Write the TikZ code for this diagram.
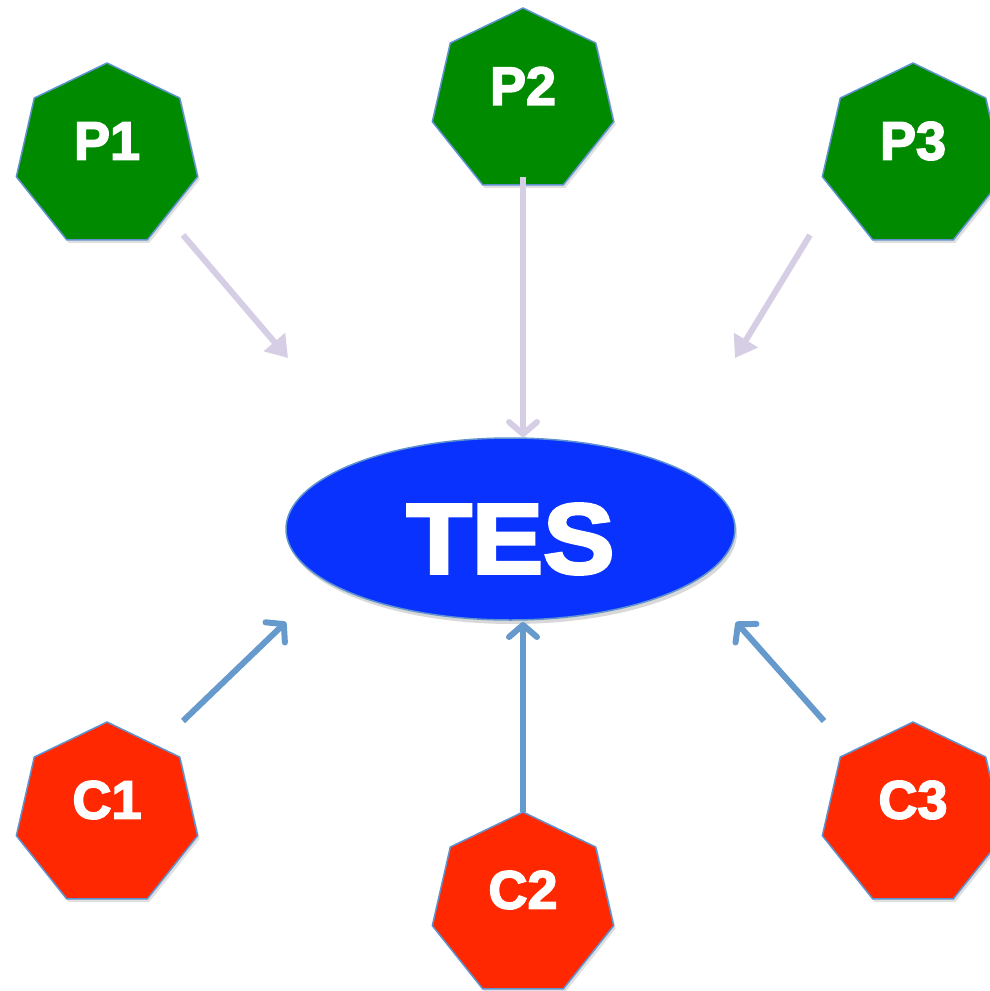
\documentclass[tikz,border=0pt]{standalone}
\usepackage{fontspec}
\setmainfont{Liberation Sans}
\newfontfamily\heavyfont{Liberation Sans}[UprightFont={* Bold}, UprightFeatures={FakeBold=3}]
\usetikzlibrary{shapes.geometric,arrows.meta,shadows}
\definecolor{pgreen}{HTML}{008A00}
\definecolor{cred}{HTML}{FF2800}
\definecolor{tesblue}{HTML}{0A32FF}
\definecolor{edgeblue}{HTML}{5F93CF}
\definecolor{lav}{HTML}{D6CEE4}
\definecolor{arrblue}{HTML}{6699CC}
\begin{document}
\begin{tikzpicture}[x=1pt,y=-1pt,
  hept/.style={regular polygon, regular polygon sides=7, minimum size=186pt,
    inner sep=0pt, outer sep=0pt, draw=edgeblue, line width=1.5pt,
    drop shadow={opacity=0.25, shadow xshift=2pt, shadow yshift=-3pt}},
  pnode/.style={hept, fill=pgreen},
  cnode/.style={hept, fill=cred},
  lbl/.style={text=white, font=\fontsize{54}{54}\heavyfont, inner sep=0pt},
  parr/.style={draw=lav, line width=6pt, -{Triangle[length=21pt,width=27pt]}},
  parrb/.style={draw=lav, line width=6pt, -{Straight Barb[length=12pt,width=28pt,round]}},
  carr/.style={draw=arrblue, line width=6pt, -{Straight Barb[length=12pt,width=28pt,round]}}
]
\useasboundingbox (0,0) rectangle (989,991);
\fill[white] (0,0) rectangle (989,991);

% heptagons
\node[pnode] (P1) at (107,156) {};
\node[pnode] (P2) at (523,101) {};
\node[pnode] (P3) at (913,156) {};
\node[cnode] (C1) at (107,815) {};
\node[cnode] (C2) at (523,905) {};
\node[cnode] (C3) at (913,815) {};

\node[lbl] (tP1) at ([yshift=15pt]P1.center) {P1};
\node[lbl] (tP2) at ([yshift=15pt]P2.center) {P2};
\node[lbl] (tP3) at ([yshift=15pt]P3.center) {P3};
\node[lbl] (tC1) at ([yshift=15pt]C1.center) {C1};
\node[lbl] (tC2) at ([yshift=15pt]C2.center) {C2};
\node[lbl] (tC3) at ([yshift=15pt]C3.center) {C3};

% central ellipse
\node[ellipse, minimum width=449pt, minimum height=182pt, inner sep=0pt,
  fill=tesblue, draw=edgeblue, line width=1.5pt,
  drop shadow={opacity=0.3, shadow xshift=2pt, shadow yshift=-4pt}] (TES) at (510.5,529) {};
\node[text=white, font=\fontsize{100}{100}\heavyfont, inner sep=0pt, xscale=1.07]
  (TEStxt) at ([yshift=-10pt]TES.center) {TES};

% arrow end points
\coordinate (a1s) at (183,235);  \coordinate (a1e) at (288,358);
\coordinate (a2s) at (523,177);  \coordinate (a2e) at (523,437);
\coordinate (a3s) at (810,235);  \coordinate (a3e) at (735,358);
\coordinate (b1s) at (183,721);  \coordinate (b1e) at (286,622);
\coordinate (b2s) at (523,812);  \coordinate (b2e) at (523,622);
\coordinate (b3s) at (824,721);  \coordinate (b3e) at (736,622);

\draw[parr] (a1s) -- (a1e);
\draw[parrb] (a2s) -- (a2e);
\draw[parr] (a3s) -- (a3e);
\draw[carr] (b1s) -- (b1e);
\draw[carr] (b2s) -- (b2e);
\draw[carr] (b3s) -- (b3e);
\end{tikzpicture}
\end{document}
